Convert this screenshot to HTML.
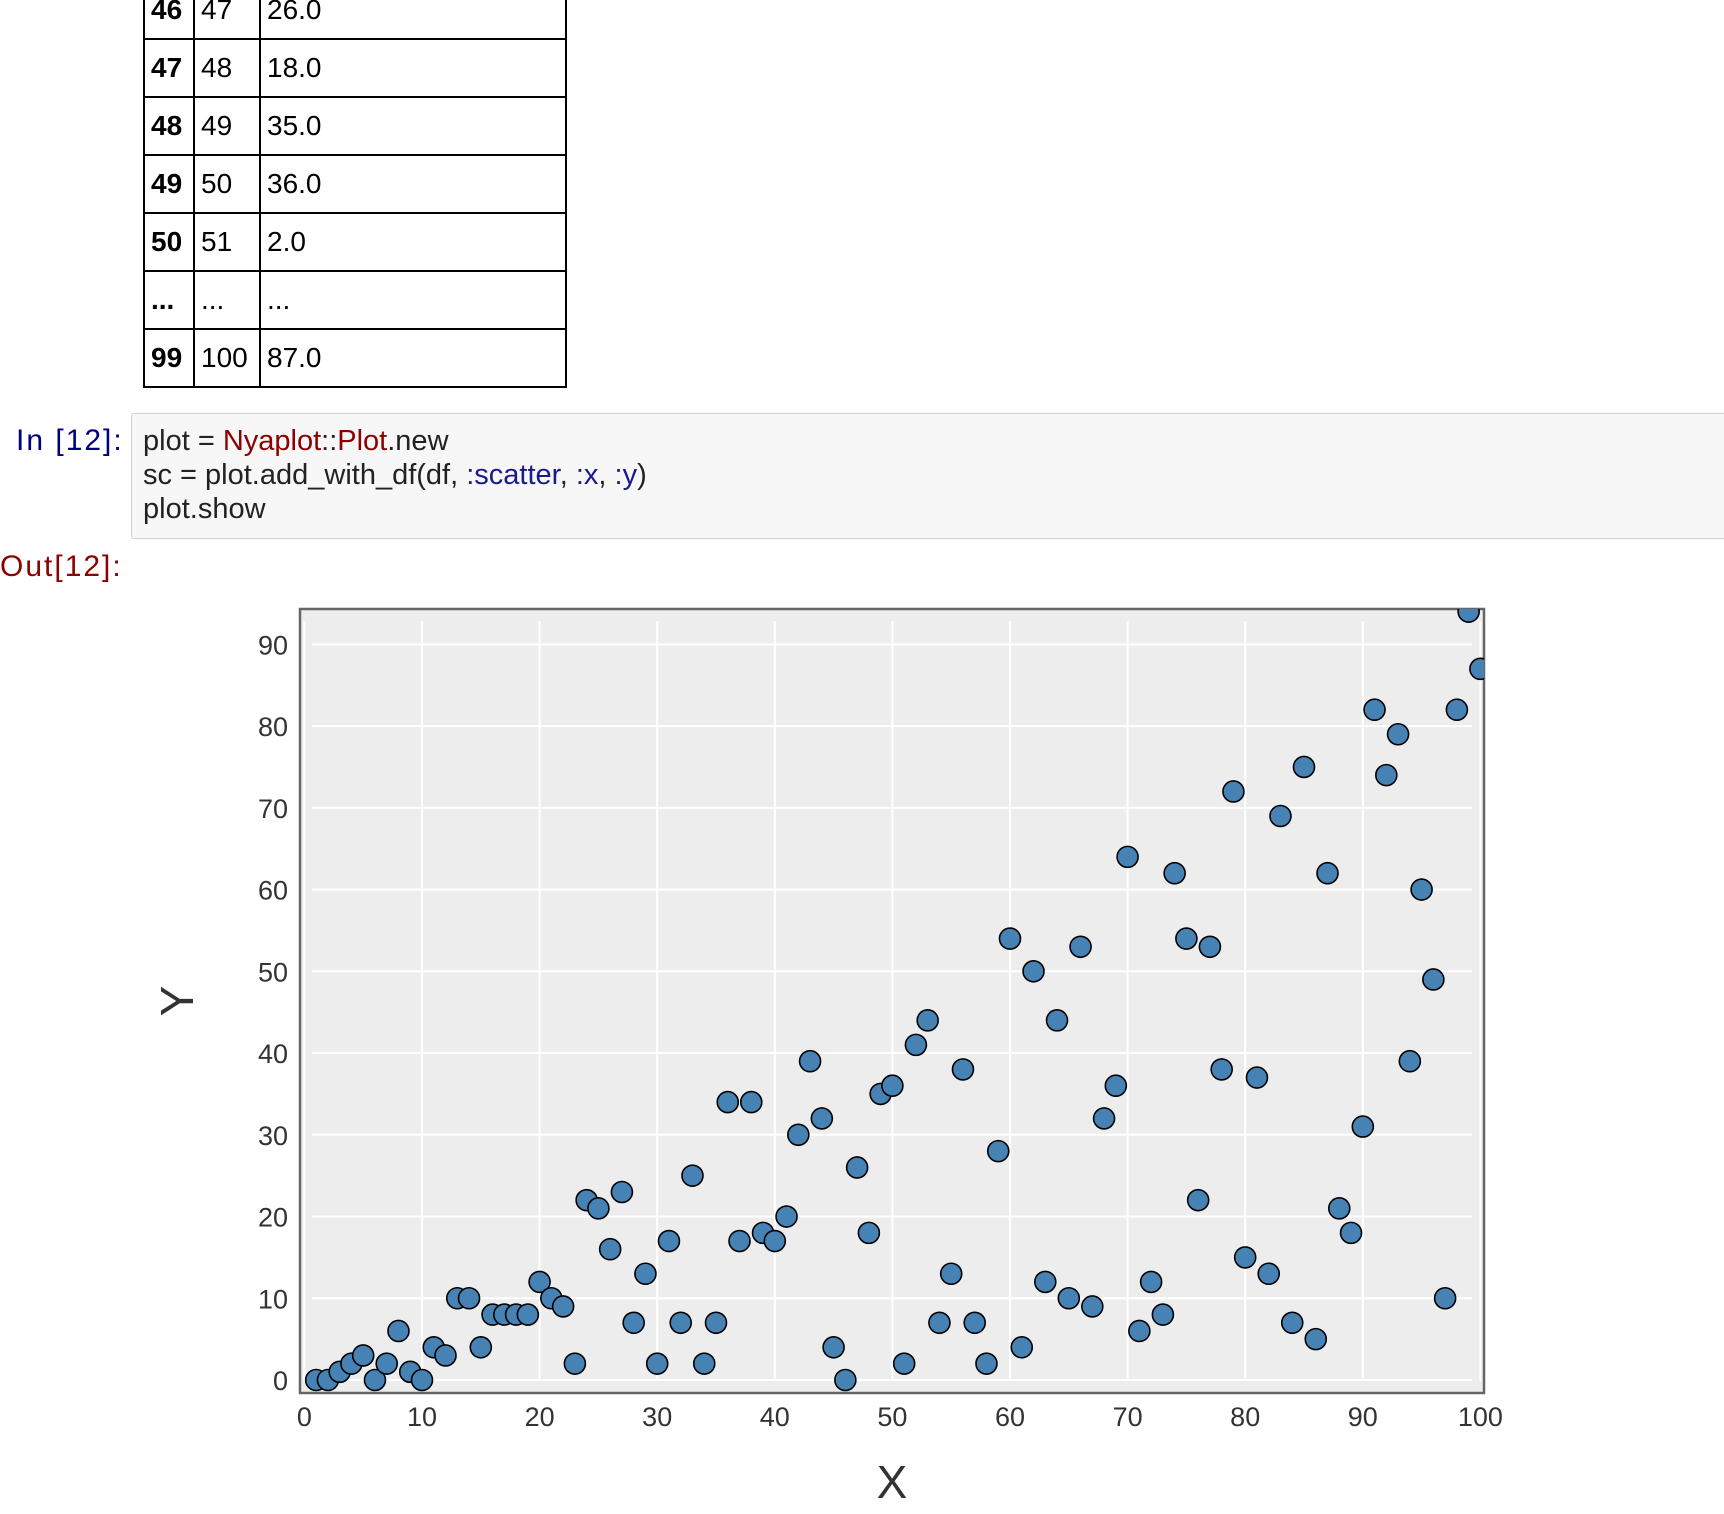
<!DOCTYPE html>
<html><head><meta charset="utf-8"><style>
body{margin:0;width:1724px;height:1514px;background:#fff;position:relative;overflow:hidden;font-family:"Liberation Sans",sans-serif}
table{position:absolute;left:143px;top:-20px;border-collapse:collapse;font-size:28px}
td{border:2px solid #000;height:56px;padding:0 6px;vertical-align:middle}
td.i{font-weight:bold;width:36px}
td.a{width:52px}
td.b{width:292px}
.code{position:absolute;left:131px;top:413px;width:1610px;height:124px;background:#f7f7f7;border:1px solid #cfcfcf;border-radius:3px}
.code pre{margin:0;position:absolute;left:11px;top:10px;font-family:"Liberation Sans",sans-serif;font-size:29px;line-height:34px;color:#222}
.prompt{position:absolute;font-size:30px;letter-spacing:2px}
</style></head><body>
<table>
<tr><td class="i">46</td><td class="a">47</td><td class="b">26.0</td></tr>
<tr><td class="i">47</td><td class="a">48</td><td class="b">18.0</td></tr>
<tr><td class="i">48</td><td class="a">49</td><td class="b">35.0</td></tr>
<tr><td class="i">49</td><td class="a">50</td><td class="b">36.0</td></tr>
<tr><td class="i">50</td><td class="a">51</td><td class="b">2.0</td></tr>
<tr><td class="i">...</td><td class="a">...</td><td class="b">...</td></tr>
<tr><td class="i">99</td><td class="a">100</td><td class="b">87.0</td></tr>
</table>
<div class="prompt" style="left:16px;top:424px;color:#000080">In [12]:</div>
<div class="code"><pre>plot = <span style="color:#8b0000">Nyaplot</span>::<span style="color:#8b0000">Plot</span>.new
sc = plot.add_with_df(df, <span style="color:#1a1a8b">:scatter</span>, <span style="color:#1a1a8b">:x</span>, <span style="color:#1a1a8b">:y</span>)
plot.show</pre></div>
<div class="prompt" style="left:0;top:550px;color:#8b0000">Out[12]:</div>
<svg id="chart" width="1724" height="1514" style="position:absolute;left:0;top:0"></svg>
<script>
const xValues=[1,2,3,4,5,6,7,8,9,10,11,12,13,14,15,16,17,18,19,20,21,22,23,24,25,26,27,28,29,30,31,32,33,34,35,36,37,38,39,40,41,42,43,44,45,46,47,48,49,50,51,52,53,54,55,56,57,58,59,60,61,62,63,64,65,66,67,68,69,70,71,72,73,74,75,76,77,78,79,80,81,82,83,84,85,86,87,88,89,90,91,92,93,94,95,96,97,98,99,100];
const yValues=[0,0,1,2,3,0,2,6,1,0,4,3,10,10,4,8,8,8,8,12,10,9,2,22,21,16,23,7,13,2,17,7,25,2,7,34,17,34,18,17,20,30,39,32,4,0,26,18,35,36,2,41,44,7,13,38,7,2,28,54,4,50,12,44,10,53,9,32,36,64,6,12,8,62,54,22,53,38,72,15,37,13,69,7,75,5,62,21,18,31,82,74,79,39,60,49,10,82,94,87];
const xTicks=[0,10,20,30,40,50,60,70,80,90,100];
const yTicks=[0,10,20,30,40,50,60,70,80,90];
const NS="http://www.w3.org/2000/svg";
const svg=document.getElementById('chart');
const L=300,R=1484,T=609,B=1393;
const sx=v=>304.4+v*11.76;
const sy=v=>1380-v*8.174;
function mk(t,a){const e=document.createElementNS(NS,t);for(const k in a)e.setAttribute(k,a[k]);svg.appendChild(e);return e;}
const bg=mk('rect',{x:L,y:T,width:R-L,height:B-T,fill:'#ededed',stroke:'#666',"stroke-width":2.5});


xTicks.forEach(t=>{
  const g=mk('line',{x1:sx(t),x2:sx(t),y1:T+12,y2:B-12,stroke:'#fff','stroke-width':2});
  
  
  const l=mk('text',{x:sx(t),y:B+33,'text-anchor':'middle','font-size':27,fill:'#333','font-family':'Liberation Sans, sans-serif'});
  l.textContent=t;
  
  
});
yTicks.forEach(t=>{
  const g=mk('line',{x1:L+12,x2:R-12,y1:sy(t),y2:sy(t),stroke:'#fff','stroke-width':2});
  
  
  const l=mk('text',{x:288,y:sy(t)+10,'text-anchor':'end','font-size':27,fill:'#333','font-family':'Liberation Sans, sans-serif'});
  l.textContent=t;
  
  
});
const cp=document.createElementNS(NS,'clipPath');cp.id='cp';
const cr=document.createElementNS(NS,'rect');cr.setAttribute('x',L);cr.setAttribute('y',T);cr.setAttribute('width',R-L);cr.setAttribute('height',B-T);
cp.appendChild(cr);svg.appendChild(cp);
const gp=mk('g',{'clip-path':'url(#cp)'});
xValues.forEach((x,i)=>{
  const c=document.createElementNS(NS,'circle');
  c.setAttribute('cx',sx(x));c.setAttribute('cy',sy(yValues[i]));c.setAttribute('r',10.5);
  c.setAttribute('fill','#4682b4');c.setAttribute('stroke','#000');c.setAttribute('stroke-width',1.6);
  
  
  gp.appendChild(c);
});
const xl=mk('text',{x:892,y:1498,'text-anchor':'middle','font-size':46,fill:'#333','font-family':'Liberation Sans, sans-serif'});
xl.textContent='X';


const yl=mk('text',{x:0,y:0,'text-anchor':'middle','font-size':46,fill:'#333','font-family':'Liberation Sans, sans-serif',transform:'translate(193,1001) rotate(-90)'});
yl.textContent='Y';


</script>
</body></html>
